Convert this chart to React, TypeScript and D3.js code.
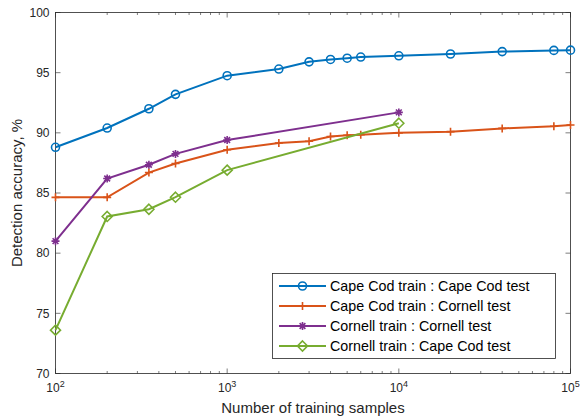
import * as d3 from "d3";

// training set sizes for each curve
const capeCodSizes = [100, 200, 350, 500, 1000, 2000, 3000, 4000, 5000, 6000, 10000, 20000, 40000, 80000, 100000];
const cornellSizes = [100, 200, 350, 500, 1000, 10000];

// accuracy values (%)
const capeCapeAcc = [88.8, 90.4, 92.0, 93.2, 94.75, 95.3, 95.9, 96.1, 96.2, 96.3, 96.4, 96.55, 96.75, 96.85, 96.87];
const capeCornellAcc = [84.64, 84.64, 86.7, 87.45, 88.6, 89.15, 89.3, 89.7, 89.8, 89.85, 90.0, 90.1, 90.37, 90.55, 90.65];
const cornellCornellAcc = [81.0, 86.2, 87.35, 88.25, 89.4, 91.7];
const cornellCapeAcc = [73.6, 83.05, 83.65, 84.65, 86.9, 90.8];

const seriesNames = [
  "Cape Cod train : Cape Cod test",
  "Cape Cod train : Cornell test",
  "Cornell train : Cornell test",
  "Cornell train : Cape Cod test",
];
const seriesColors = ["#0072BD", "#D95319", "#7E2F8E", "#77AC30"];
const seriesMarkers = ["circle", "plus", "star", "diamond"];

const yTicks = [70, 75, 80, 85, 90, 95, 100];
const xDecades = [2, 3, 4, 5];

const W = 580;
const H = 418;
const margin = { top: 12.5, right: 9.5, bottom: 44.5, left: 55.5 };
const axisColor = "#262626";
const font = "'Liberation Sans', Arial, sans-serif";

function markerPath(kind: string, r: number) {
  switch (kind) {
    case "circle":
      return `M${r},0A${r},${r} 0 1,1 ${-r},0A${r},${r} 0 1,1 ${r},0Z`;
    case "plus":
      return `M${-r},0H${r}M0,${-r}V${r}`;
    case "star": {
      const d = r * 0.72;
      return `M${-r},0H${r}M0,${-r}V${r}M${-d},${-d}L${d},${d}M${-d},${d}L${d},${-d}`;
    }
    case "diamond":
      return `M0,${-r}L${r},0L0,${r}L${-r},0Z`;
  }
  return "";
}

export default function App() {
  const x = d3.scaleLog().domain([100, 100000]).range([margin.left, W - margin.right]);
  const y = d3.scaleLinear().domain([70, 100]).range([H - margin.bottom, margin.top]);

  const series = [
    { xs: capeCodSizes, ys: capeCapeAcc },
    { xs: capeCodSizes, ys: capeCornellAcc },
    { xs: cornellSizes, ys: cornellCornellAcc },
    { xs: cornellSizes, ys: cornellCapeAcc },
  ];

  const line = d3.line<[number, number]>()
    .x(d => x(d[0]))
    .y(d => y(d[1]));

  const [x0, x1] = x.range();
  const [y0, y1] = y.range(); // y0 bottom, y1 top

  // minor ticks: 2..9 in each decade
  const minorTicks: number[] = [];
  for (let e = 2; e < 5; e++) {
    for (let m = 2; m <= 9; m++) minorTicks.push(m * Math.pow(10, e));
  }

  const legend = { x: 272.5, y: 273.5, w: 283, h: 85, row: 20, first: 12.5 };

  return (
    <svg width={W} height={H} style={{ position: "absolute", left: 0, top: 0, background: "#fff" }}
      fontFamily={font}>
      <rect x={0} y={0} width={W} height={H} fill="#fff" />

      {/* ticks */}
      <g stroke={axisColor} strokeWidth={0.6}>
        {yTicks.map(t => (
          <g key={"y" + t}>
            <line x1={x0} x2={x0 + 5} y1={y(t)} y2={y(t)} />
            <line x1={x1} x2={x1 - 5} y1={y(t)} y2={y(t)} />
          </g>
        ))}
        {xDecades.map(e => {
          const px = x(Math.pow(10, e));
          return (
            <g key={"xd" + e}>
              <line x1={px} x2={px} y1={y0} y2={y0 - 5} />
              <line x1={px} x2={px} y1={y1} y2={y1 + 5} />
            </g>
          );
        })}
        {minorTicks.map(t => (
          <g key={"xm" + t}>
            <line x1={x(t)} x2={x(t)} y1={y0} y2={y0 - 2.5} />
            <line x1={x(t)} x2={x(t)} y1={y1} y2={y1 + 2.5} />
          </g>
        ))}
      </g>

      {/* box */}
      <rect x={x0} y={y1} width={x1 - x0} height={y0 - y1} fill="none" stroke={axisColor} strokeWidth={0.8} />

      {/* tick labels */}
      <g fontSize={12} fill={axisColor}>
        {yTicks.map(t => (
          <text key={"yl" + t} x={x0 - 6} y={y(t)} dy="0.35em" textAnchor="end">{t}</text>
        ))}
        {xDecades.map(e => (
          <text key={"xl" + e} x={x(Math.pow(10, e))} y={y0 + 18} textAnchor="middle">
            10<tspan dy={-5} fontSize={9}>{e}</tspan>
          </text>
        ))}
      </g>

      {/* axis labels */}
      <text x={(x0 + x1) / 2} y={413} textAnchor="middle" fontSize={15} fill={axisColor}>
        Number of training samples
      </text>
      <text transform={`translate(22,${(y0 + y1) / 2}) rotate(-90)`} textAnchor="middle" fontSize={15} fill={axisColor}>
        Detection accuracy, %
      </text>

      {/* series */}
      {series.map((s, i) => {
        const pts = s.xs.map((v, j) => [v, s.ys[j]] as [number, number]);
        return (
          <g key={"s" + i}>
            <path d={line(pts) || ""} fill="none" stroke={seriesColors[i]} strokeWidth={2} />
            {pts.map((p, j) => (
              <path key={j} transform={`translate(${x(p[0])},${y(p[1])})`}
                d={markerPath(seriesMarkers[i], seriesMarkers[i] === "diamond" ? 5 : 4)}
                fill="none" stroke={seriesColors[i]} strokeWidth={1.6} />
            ))}
          </g>
        );
      })}

      {/* legend */}
      <g>
        <rect x={legend.x} y={legend.y} width={legend.w} height={legend.h} fill="#fff" stroke={axisColor} strokeWidth={0.8} />
        {seriesNames.map((name, i) => {
          const ly = legend.y + legend.first + i * legend.row;
          return (
            <g key={"l" + i}>
              <line x1={279} x2={326} y1={ly} y2={ly} stroke={seriesColors[i]} strokeWidth={2} />
              <path transform={`translate(302.5,${ly})`} d={markerPath(seriesMarkers[i], seriesMarkers[i] === "diamond" ? 5 : 4)}
                fill="none" stroke={seriesColors[i]} strokeWidth={1.6} />
              <text x={330} y={ly} dy="0.35em" fontSize={14.3} fill="#000">{name}</text>
            </g>
          );
        })}
      </g>
    </svg>
  );
}
